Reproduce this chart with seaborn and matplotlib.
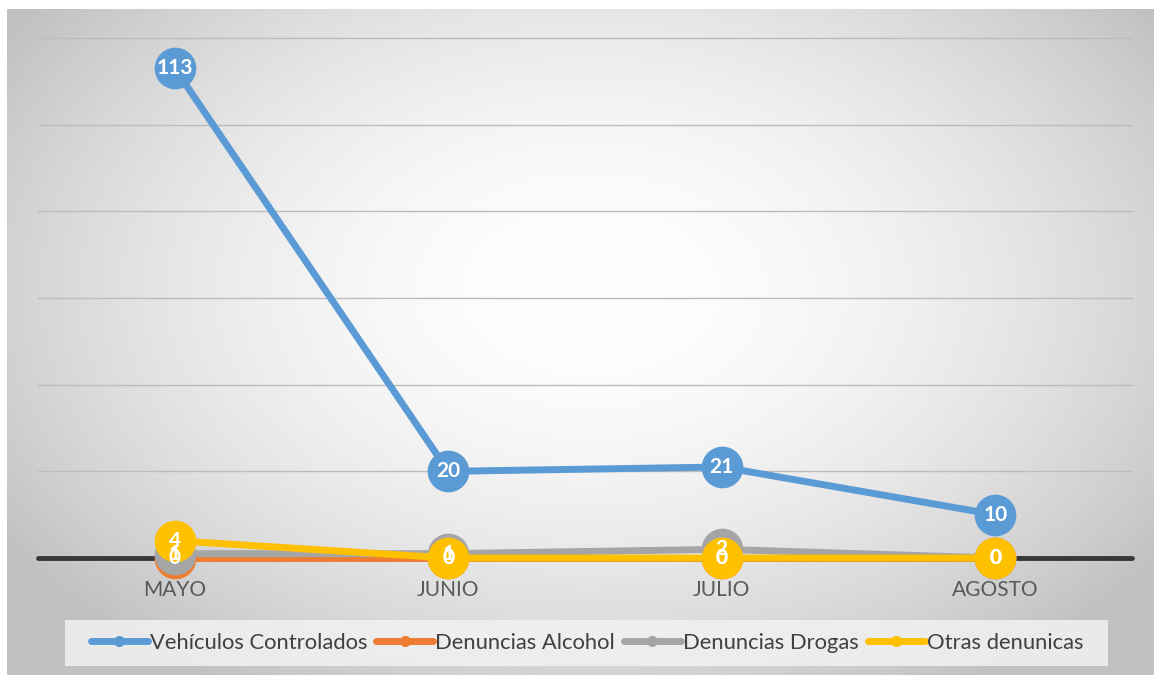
import numpy as np
import pandas as pd
import matplotlib
matplotlib.use("Agg")
import matplotlib.pyplot as plt
import seaborn as sns
from matplotlib.lines import Line2D

categories = ["MAYO", "JUNIO", "JULIO", "AGOSTO"]
vehiculos = [113, 20, 21, 10]
alcohol = [0, 0, 0, 0]
drogas = [1, 1, 2, 0]
otras = [4, 0, 0, 0]
series_names = ["Vehículos Controlados", "Denuncias Alcohol", "Denuncias Drogas", "Otras denunicas"]
colors = ["#5b9bd5", "#ed7d31", "#a5a5a5", "#ffc000"]

sns.set_theme(style="white")
plt.rcParams['font.family'] = ['Lato', 'DejaVu Sans']

rows = []
for name, vals in zip(series_names, [vehiculos, alcohol, drogas, otras]):
    for i, (c, v) in enumerate(zip(categories, vals)):
        rows.append({"serie": name, "mes": c, "x": i, "valor": v})
df = pd.DataFrame(rows)

W, H = 1154, 675
fig = plt.figure(figsize=(W / 100, H / 100), dpi=100)

# background radial gradient
bg = fig.add_axes([0, 0, 1, 1], zorder=-10)
yy, xx = np.mgrid[0:H, 0:W]
cx, cy = 590, 290
r = np.sqrt(((xx - cx) / 660.0) ** 2 + ((yy - cy) / 440.0) ** 2)
g = np.clip(1.0 - 0.22 * r ** 1.8, 0.76, 1.0)
img = np.dstack([g, g, g])
img[:9, :, :] = 1.0
img[:, :7, :] = 1.0
bg.imshow(img, extent=[0, W, H, 0], aspect='auto')
bg.set_xlim(0, W)
bg.set_ylim(H, 0)
bg.axis('off')
bg.add_patch(plt.Rectangle((65, 620), 1043, 46, facecolor="#f2f2f2", edgecolor="none", alpha=0.85))

ax = fig.add_axes([38 / W, 1 - 558 / H, (1132 - 38) / W, (558 - 38) / H])
ax.patch.set_alpha(0)
ax.set_xlim(-0.5, 3.5)
ax.set_ylim(0, 120)
for yv in range(20, 121, 20):
    ax.axhline(yv, color="#bcbcbc", lw=1.0, zorder=0)
ax.axhline(0, color="#383838", lw=3.5, zorder=1)

palette = dict(zip(series_names, colors))
sns.lineplot(data=df, x="x", y="valor", hue="serie", palette=palette, hue_order=series_names,
             marker="o", markersize=30, markeredgewidth=0, linewidth=5, ax=ax,
             legend=False, zorder=3)
for line in ax.get_lines():
    line.set_clip_on(False)

for name, vals in zip(series_names, [vehiculos, alcohol, drogas, otras]):
    for i, v in enumerate(vals):
        ax.text(i, v, str(v), color="white", fontsize=15, fontweight="bold",
                ha="center", va="center", zorder=5, clip_on=False)

ax.set_xticks(range(len(categories)))
ax.set_xticklabels(categories, fontsize=15, color="#595959")
ax.tick_params(axis='x', length=0, pad=16)
ax.set_yticks([])
ax.set_xlabel("")
ax.set_ylabel("")
for s in ax.spines.values():
    s.set_visible(False)

handles = [Line2D([0], [0], color=c, lw=5, marker="o", markersize=8, markeredgewidth=0) for c in colors]
fig.legend(handles, series_names, loc="center", bbox_to_anchor=(587 / W, 1 - 643 / H), ncol=4,
           frameon=False, fontsize=15.8, handlelength=2.6, handletextpad=0.1, columnspacing=0.4,
           labelcolor="#404040")

fig.savefig("out.png", dpi=100)
